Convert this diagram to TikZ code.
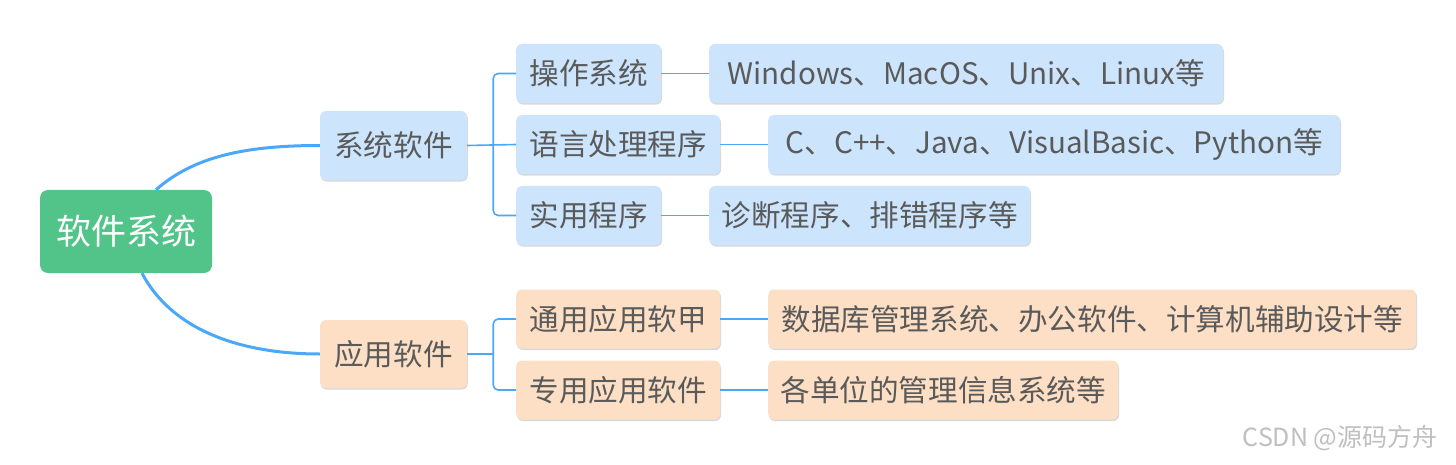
\documentclass[tikz,border=0pt]{standalone}
\usepackage{fontspec}
\setmainfont{Noto Sans CJK SC}
\usepackage{tikz}
\usetikzlibrary{shadows}
\definecolor{rootgreen}{HTML}{52C48A}
\definecolor{sysblue}{HTML}{CCE5FD}
\definecolor{apppeach}{HTML}{FDDFC5}
\definecolor{linkblue}{HTML}{4AA8F8}
\definecolor{textgray}{HTML}{5A5A5A}
\tikzset{
  box/.style={rectangle, rounded corners=6pt, inner sep=0pt, minimum height=59pt,
    text=textgray, font=\fontsize{29.6}{29.6}\selectfont,
    drop shadow={shadow xshift=0.8pt, shadow yshift=-1.6pt, fill=black, opacity=0.15}},
  sysbox/.style={box, fill=sysblue},
  appbox/.style={box, fill=apppeach},
  rootbox/.style={rectangle, rounded corners=8pt, fill=rootgreen, text=white,
    minimum width=172pt, minimum height=83pt, font=\fontsize{35}{35}\selectfont},
  trunk/.style={linkblue, line width=3pt},
  twig/.style={linkblue, line width=1.6pt, rounded corners=5pt}
}
\begin{document}
\begin{tikzpicture}[x=1pt, y=-1pt]
    \useasboundingbox (0,0) rectangle (1456,465);

    % Draw the root
    \node[rootbox] (root) at (126,231.5) {软件系统};

    % Draw the main branches
    \node[sysbox, minimum width=147pt, minimum height=69pt] (sys) at (393.5,145.5) {系统软件};
    \node[appbox, minimum width=147pt, minimum height=68pt] (app) at (393.5,354) {应用软件};

    % Draw the system software items
    \node[sysbox, anchor=west, minimum width=145pt] (os) at (516,73.5) {操作系统};
    \node[sysbox, anchor=west, minimum width=204pt] (lang) at (516,144.5) {语言处理程序};
    \node[sysbox, anchor=west, minimum width=145pt] (util) at (516,215.5) {实用程序};
    \node[sysbox, anchor=west, minimum width=514pt] (osx) at (709,73.5) {Windows、MacOS、Unix、Linux等};
    \node[sysbox, anchor=west, minimum width=572pt] (langx) at (768,144.5) {C、C++、Java、VisualBasic、Python等};
    \node[sysbox, anchor=west, minimum width=321pt] (utilx) at (709,215.5) {诊断程序、排错程序等};

    % Draw the application software items
    \node[appbox, anchor=west, minimum width=204pt] (gen) at (516,319) {通用应用软甲};
    \node[appbox, anchor=west, minimum width=204pt] (spec) at (516,390) {专用应用软件};
    \node[appbox, anchor=west, minimum width=648pt] (genx) at (768,319) {数据库管理系统、办公软件、计算机辅助设计等};
    \node[appbox, anchor=west, minimum width=350pt] (specx) at (768,390) {各单位的管理信息系统等};

    % Draw the curved links from the root
    \draw[trunk] ([xshift=30pt]root.north) .. controls (195,155) and (250,145.5) .. (sys.west);
    \draw[trunk] ([xshift=16pt]root.south) .. controls (172,330) and (240,354) .. (app.west);

    % Draw the brackets
    \draw[twig] (os.west) -| ([xshift=26pt]sys.east) |- (util.west);
    \draw[twig] (sys.east) -- (lang.west);
    \draw[twig] (gen.west) -| ([xshift=26pt]app.east) |- (spec.west);
    \draw[twig] (app.east) -- ([xshift=26pt]app.east);

    % Draw the leaf links
    \draw[twig] (os.east) -- (osx.west);
    \draw[twig] (lang.east) -- (langx.west);
    \draw[twig] (util.east) -- (utilx.west);
    \draw[twig] (gen.east) -- (genx.west);
    \draw[twig] (spec.east) -- (specx.west);

    % Watermark
    \node[anchor=east, text=black!25, font=\fontsize{25}{25}\selectfont] (mark) at (1441,438) {CSDN @源码方舟};
\end{tikzpicture}
\end{document}
